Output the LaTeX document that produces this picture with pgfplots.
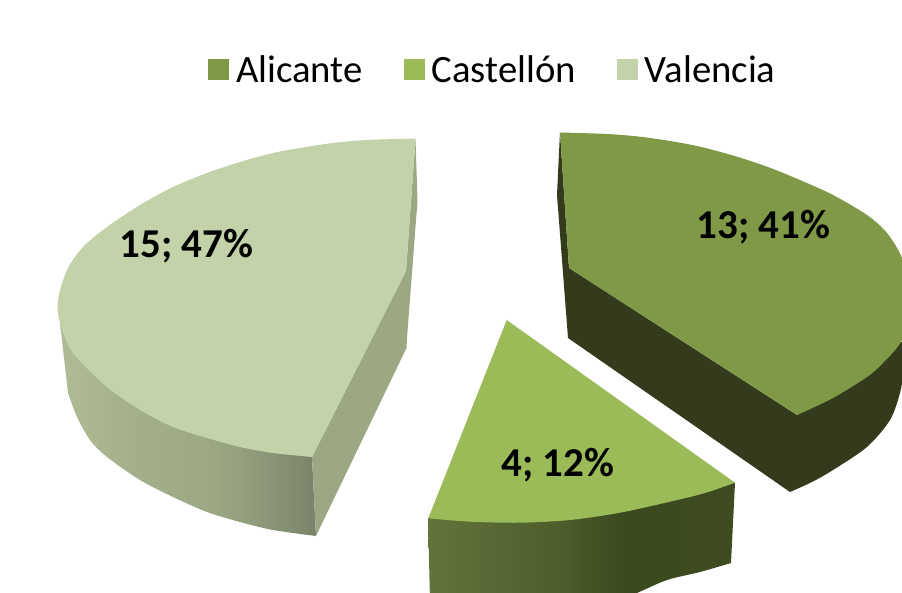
\documentclass[border=0pt]{standalone}
\usepackage{pgfplots}
\pgfplotsset{compat=1.18}
\usepackage{fontspec}
\setmainfont{Carlito}
\definecolor{ali}{HTML}{7F9947}
\definecolor{alid}{HTML}{343A1C}
\definecolor{cas}{HTML}{9BBB59}
\definecolor{val}{HTML}{C3D2A8}
\definecolor{vald}{HTML}{9CA883}
\pgfdeclarehorizontalshading{valside}{100bp}{rgb(0bp)=(0.686,0.737,0.584); rgb(25bp)=(0.686,0.737,0.584); rgb(40bp)=(0.639,0.686,0.541); rgb(55bp)=(0.612,0.659,0.514); rgb(65bp)=(0.549,0.592,0.471); rgb(75bp)=(0.471,0.514,0.416); rgb(100bp)=(0.471,0.514,0.416)}
\pgfdeclarehorizontalshading{casside}{100bp}{rgb(0bp)=(0.384,0.451,0.227); rgb(25bp)=(0.384,0.451,0.227); rgb(45bp)=(0.31,0.373,0.173); rgb(57bp)=(0.227,0.29,0.118); rgb(75bp)=(0.247,0.294,0.125); rgb(100bp)=(0.247,0.294,0.125)}
\begin{document}
\begin{tikzpicture}
\path[use as bounding box] (0,0) rectangle (902pt,593pt);
\begin{axis}[
  at={(0,0)}, anchor=south west,
  scale only axis, width=902pt, height=593pt,
  xmin=0, xmax=902, ymin=0, ymax=593, y dir=reverse,
  axis lines=none,
  legend style={at={(axis cs:208,70)}, anchor=west, draw=none, fill=none,
    legend columns=3, inner sep=0pt, font=\fontsize{38.7}{44}\selectfont,
    /tikz/every even column/.append style={column sep=39pt},
    /tikz/every odd column/.append style={column sep=5pt}},
  legend cell align=left,
  legend image code/.code={\fill[#1,draw=none] (0pt,-10.5pt) rectangle (21pt,10.5pt);},
]
% Alicante
\addplot[fill=alid, draw=none, forget plot, smooth] coordinates {(790,492) (812,482) (833,470) (867,447) (890,420) (900,393) (904,370)} -- (axis cs:904,340) -- (axis cs:797,415) -- (axis cs:569,268) -- (axis cs:560,132) -- (axis cs:557,195) -- (axis cs:568,338) -- cycle;
\addplot[fill=ali, draw=none, forget plot, smooth] coordinates {(560,132.5) (607,134) (640,136.7) (673,141.5) (700,146.7) (733,155.5) (767,166.7) (800,180) (833,195) (867,215) (887,233) (902,258) (915,300) (902,340) (883,363) (867,377) (833,398) (797,415)} -- (axis cs:569,268) -- cycle;
% Castellon
\addplot[shading=casside, draw=none, forget plot, smooth] coordinates {(731,563) (700,572) (667,580) (637,593) (620,600)} -- (axis cs:430,600) -- (axis cs:428,518) -- (axis cs:735,483) -- cycle;
\addplot[fill=cas, draw=none, forget plot, smooth] coordinates {(735,482.7) (705,493) (670,501.7) (620,512.7) (570,520) (520,522.7) (470,521.7) (428.3,518.3)} -- (axis cs:506.7,320) -- cycle;
% Valencia
\addplot[shading=valside, draw=none, forget plot, smooth] coordinates {(68,393) (77,417) (90,440) (107,457) (140,480) (173,497) (207,512) (240,522) (273,530) (316,536)} -- (axis cs:312,457) -- (axis cs:60,323) -- cycle;
\addplot[fill=vald, draw=none, forget plot] coordinates {(312,457) (406,271) (415.5,138.5) (417.5,201) (407,338) (406.5,348) (316,536)} -- cycle;
\addplot[fill=val, draw=none, forget plot, smooth] coordinates {(415.5,138.5) (367,140) (333,143) (300,148) (273,153) (240,162) (207,173) (173,187) (140,205) (107,227) (83,247) (67,270) (58,300) (60,323) (73,353) (107,387) (140,410) (173,427) (207,438) (240,447) (273,453) (312,457)} -- (axis cs:406,271) -- cycle;
% data labels
\node[anchor=base, font=\bfseries\fontsize{41}{48}\selectfont, inner sep=0pt] at (axis cs:186.5,258) {15; 47\%};
\node[anchor=base, font=\bfseries\fontsize{41}{48}\selectfont, inner sep=0pt] at (axis cs:763.5,239) {13; 41\%};
\node[anchor=base, font=\bfseries\fontsize{41}{48}\selectfont, inner sep=0pt] at (axis cs:558,476) {4; 12\%};
% legend
\addlegendimage{fill=ali}\addlegendentry{Alicante}
\addlegendimage{fill=cas}\addlegendentry{Castellón}
\addlegendimage{fill=val}\addlegendentry{Valencia}
\end{axis}
\end{tikzpicture}
\end{document}
